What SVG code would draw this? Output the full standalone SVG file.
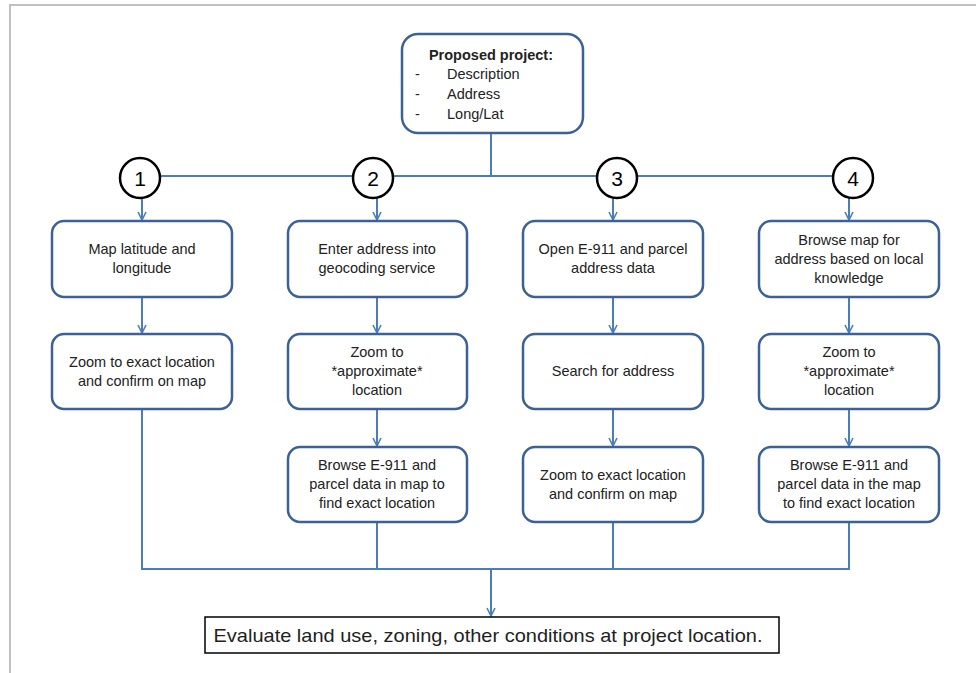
<svg xmlns="http://www.w3.org/2000/svg" width="976" height="673" viewBox="0 0 976 673">
<defs>
<marker id="arr" viewBox="0 0 10 10" refX="9" refY="5" markerWidth="10" markerHeight="10" markerUnits="userSpaceOnUse" orient="auto">
<path d="M1,1 L9,5 L1,9" fill="none" stroke="#4a7ebb" stroke-width="1.6"/>
</marker>
<style>
.box{fill:#fff;stroke:#3b6196;stroke-width:2.5}
.t{font-family:"Liberation Sans",Arial,sans-serif;font-size:14.5px;fill:#222;text-anchor:middle}
.tl{font-family:"Liberation Sans",Arial,sans-serif;font-size:14.5px;fill:#222}
.c{fill:#fff;stroke:#000;stroke-width:2.5}
.n{font-family:"Liberation Sans",Arial,sans-serif;font-size:21px;fill:#000;text-anchor:middle}
.ln{fill:none;stroke:#4a7ebb;stroke-width:2}
</style>
</defs>
<rect width="976" height="673" fill="#fff"/>
<path d="M10,673 L10,5 L976,5" fill="none" stroke="#c0c0c0" stroke-width="2"/>

<g id="connectors">
<path class="ln" d="M491,133 V176"/>
<path class="ln" d="M160,176 H832"/>
<path class="ln" d="M142,198 V220" marker-end="url(#arr)"/>
<path class="ln" d="M377,198 V220" marker-end="url(#arr)"/>
<path class="ln" d="M613,198 V220" marker-end="url(#arr)"/>
<path class="ln" d="M849,198 V220" marker-end="url(#arr)"/>
<path class="ln" d="M142,297 V333" marker-end="url(#arr)"/>
<path class="ln" d="M377,297 V333" marker-end="url(#arr)"/>
<path class="ln" d="M613,297 V333" marker-end="url(#arr)"/>
<path class="ln" d="M849,297 V333" marker-end="url(#arr)"/>
<path class="ln" d="M377,409 V446" marker-end="url(#arr)"/>
<path class="ln" d="M613,409 V446" marker-end="url(#arr)"/>
<path class="ln" d="M849,409 V446" marker-end="url(#arr)"/>
<path class="ln" d="M142,409 V569 H849 V522"/>
<path class="ln" d="M377,522 V569"/>
<path class="ln" d="M613,522 V569"/>
<path class="ln" d="M491,569 V616" marker-end="url(#arr)"/>
</g>

<g id="proposed">
<rect class="box" x="402" y="34" width="181" height="99" rx="16"/>
<text class="t" x="491" y="60" style="font-weight:bold;font-size:14.5px">Proposed project:</text>
<text class="tl" x="415" y="79">-</text><text class="tl" x="447" y="79">Description</text>
<text class="tl" x="415" y="99">-</text><text class="tl" x="447" y="99">Address</text>
<text class="tl" x="415" y="119">-</text><text class="tl" x="447" y="119">Long/Lat</text>
</g>

<g id="c1"><circle class="c" cx="140" cy="178" r="20"/><text class="n" x="140" y="186">1</text></g>
<g id="c2"><circle class="c" cx="373" cy="178" r="20"/><text class="n" x="373" y="186">2</text></g>
<g id="c3"><circle class="c" cx="617" cy="178" r="20"/><text class="n" x="617" y="186">3</text></g>
<g id="c4"><circle class="c" cx="853" cy="178" r="20"/><text class="n" x="853" y="186">4</text></g>

<g id="b1a"><rect class="box" x="52" y="221" width="180" height="76" rx="12"/>
<text class="t" x="142" y="254">Map latitude and</text><text class="t" x="142" y="273">longitude</text></g>
<g id="b1b"><rect class="box" x="52" y="334" width="180" height="75" rx="12"/>
<text class="t" x="142" y="367">Zoom to exact location</text><text class="t" x="142" y="386">and confirm on map</text></g>

<g id="b2a"><rect class="box" x="288" y="221" width="179" height="76" rx="12"/>
<text class="t" x="377" y="254">Enter address into</text><text class="t" x="377" y="273">geocoding service</text></g>
<g id="b2b"><rect class="box" x="288" y="334" width="179" height="75" rx="12"/>
<text class="t" x="377" y="357">Zoom to</text><text class="t" x="377" y="376">*approximate*</text><text class="t" x="377" y="395">location</text></g>
<g id="b2c"><rect class="box" x="288" y="447" width="179" height="75" rx="12"/>
<text class="t" x="377" y="470">Browse E-911 and</text><text class="t" x="377" y="489">parcel data in map to</text><text class="t" x="377" y="508">find exact location</text></g>

<g id="b3a"><rect class="box" x="523" y="221" width="180" height="76" rx="12"/>
<text class="t" x="613" y="254">Open E-911 and parcel</text><text class="t" x="613" y="273">address data</text></g>
<g id="b3b"><rect class="box" x="523" y="334" width="180" height="75" rx="12"/>
<text class="t" x="613" y="376">Search for address</text></g>
<g id="b3c"><rect class="box" x="523" y="447" width="180" height="75" rx="12"/>
<text class="t" x="613" y="480">Zoom to exact location</text><text class="t" x="613" y="499">and confirm on map</text></g>

<g id="b4a"><rect class="box" x="759" y="221" width="180" height="76" rx="12"/>
<text class="t" x="849" y="245">Browse map for</text><text class="t" x="849" y="264">address based on local</text><text class="t" x="849" y="283">knowledge</text></g>
<g id="b4b"><rect class="box" x="759" y="334" width="180" height="75" rx="12"/>
<text class="t" x="849" y="357">Zoom to</text><text class="t" x="849" y="376">*approximate*</text><text class="t" x="849" y="395">location</text></g>
<g id="b4c"><rect class="box" x="759" y="447" width="180" height="75" rx="12"/>
<text class="t" x="849" y="470">Browse E-911 and</text><text class="t" x="849" y="489">parcel data in the map</text><text class="t" x="849" y="508">to find exact location</text></g>

<g id="evaluate"><rect x="205" y="617" width="574" height="36" fill="#fff" stroke="#000" stroke-width="1.5"/>
<text x="488" y="642" textLength="549" lengthAdjust="spacingAndGlyphs" style="font-family:'Liberation Sans',Arial,sans-serif;font-size:19px;fill:#222;text-anchor:middle">Evaluate land use, zoning, other conditions at project location.</text></g>
</svg>
